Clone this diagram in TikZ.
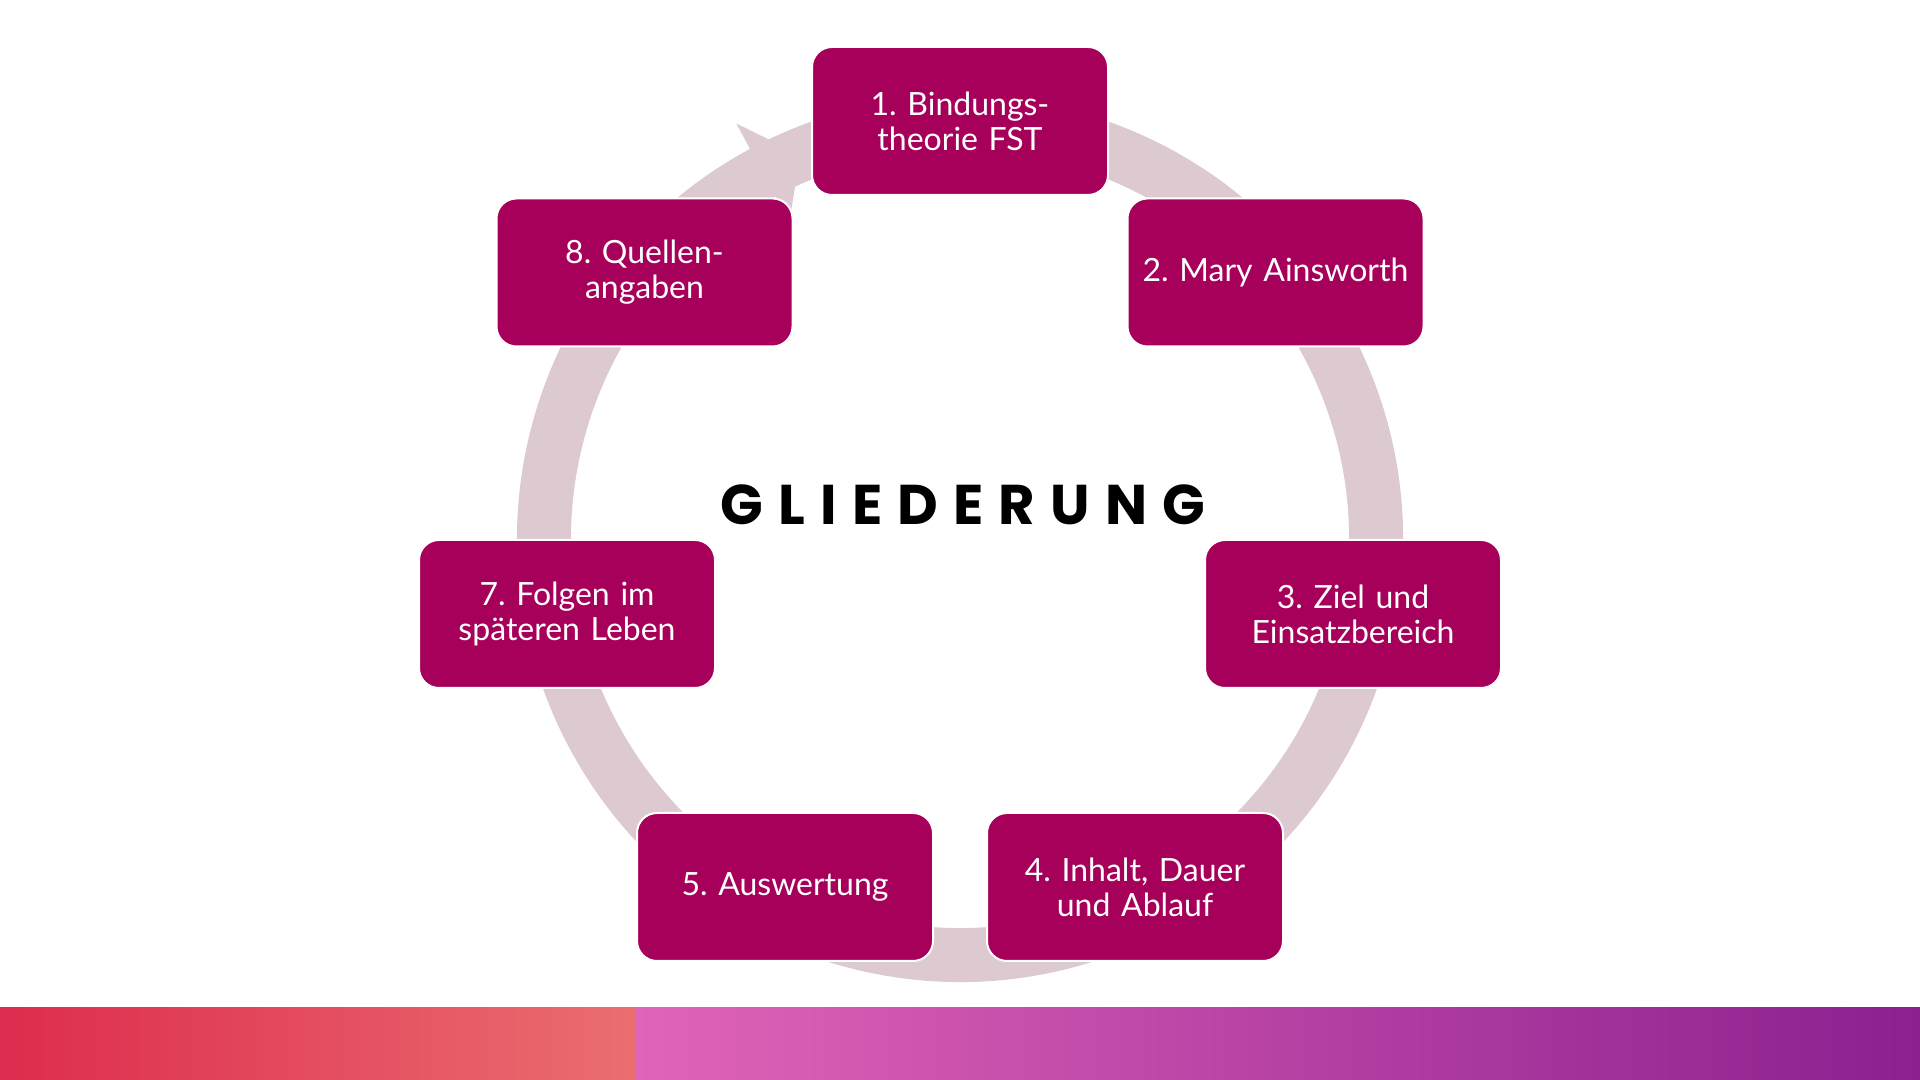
\documentclass[tikz,border=0pt]{standalone}
\usepackage{fontspec}
\usetikzlibrary{calc}
\newfontfamily\titlefont[LetterSpace=27]{Poppins}
\newfontfamily\boxfont{Lato}
\definecolor{boxfill}{HTML}{A6005A}
\definecolor{ringcol}{HTML}{DDC9D0}
\definecolor{barA}{HTML}{DE2C4E}
\definecolor{barB}{HTML}{EA6E70}
\definecolor{barC}{HTML}{E064B8}
\definecolor{barD}{HTML}{8C2090}
\tikzset{
  itembox/.style={draw=white, line width=1pt, fill=boxfill, rounded corners=10pt,
    minimum width=148pt, minimum height=74pt, text width=140pt, align=center,
    text=white, font=\boxfont\fontsize{16}{17.5}\selectfont, inner sep=0pt},
  ringstyle/.style={draw=ringcol, line width=27pt},
}
\begin{document}
\frenchspacing
\begin{tikzpicture}[x=0.5pt,y=0.5pt]
\useasboundingbox (0,0) rectangle (1920,1080);
\fill[white] (0,0) rectangle (1920,1080);
\coordinate (c) at (960,541);
% ring with arrowhead
\draw[ringstyle] (c) ++(118:416) arc[start angle=118, end angle=-270, radius=416];
\fill[ringcol] ($(c)+(118.3:472)$) -- ($(c)+(112.6:416)$) -- ($(c)+(118.3:360)$) -- cycle;
% boxes
\node[itembox] (b1) at (960,959) {1. Bindungs-\\theorie FST};
\node[itembox] (b2) at (1275.5,807.5) {2. Mary Ainsworth};
\node[itembox] (b3) at (1353,466) {3. Ziel und\\Einsatzbereich};
\node[itembox] (b4) at (1135,193) {4. Inhalt, Dauer\\und Ablauf};
\node[itembox] (b5) at (785,193) {5. Auswertung};
\node[itembox] (b7) at (567,466) {7. Folgen im\\späteren Leben};
\node[itembox] (b8) at (644.5,807.5) {8. Quellen-\\angaben};
% title
\node[font=\titlefont\bfseries\fontsize{28}{30}\selectfont, text=black, inner sep=0pt] (title) at (963,575) {GLIEDERUNG};
% bottom bar
\shade[left color=barA, right color=barB] (0,0) rectangle (636,72);
\shade[left color=barC, right color=barD] (636,0) rectangle (1920,72);
\end{tikzpicture}
\end{document}
